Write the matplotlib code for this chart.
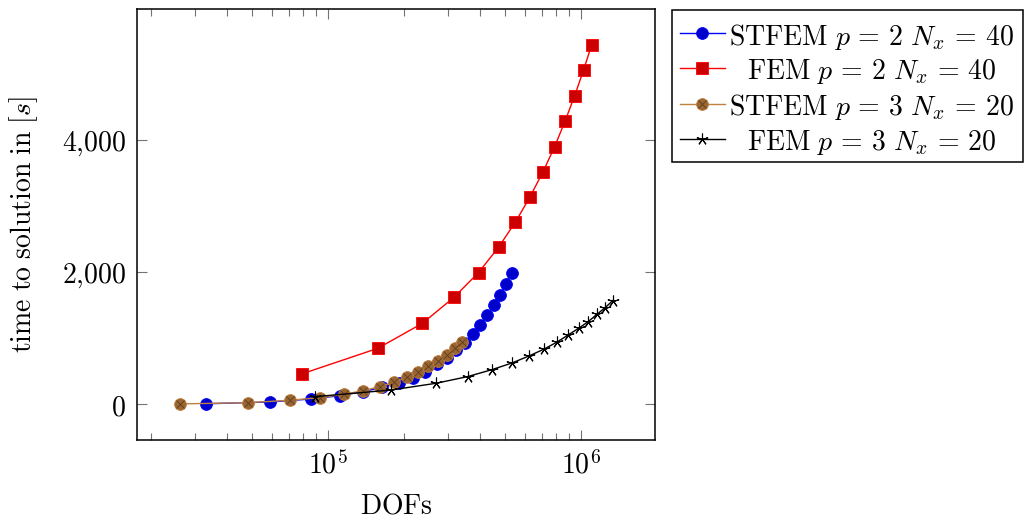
"""Time to solution vs. DOFs for STFEM and FEM runs (log x axis)."""
import math

import matplotlib
matplotlib.use("Agg")
import matplotlib.pyplot as plt
from matplotlib.lines import Line2D
from matplotlib.patches import Rectangle
from matplotlib.ticker import FuncFormatter, FixedLocator, LogLocator, NullFormatter

plt.rcParams["mathtext.fontset"] = "cm"

# --- data ------------------------------------------------------------------
stfem2_dofs = [33000, 59300, 85600, 111900, 138200, 164500, 190800, 217100,
               243400, 269700, 296000, 322300, 348600, 374900, 401200, 427500,
               453800, 480100, 506400, 532700]
stfem2_time = [8, 35, 80, 131, 191, 257, 328, 403, 494, 605, 696, 817, 933,
               1064, 1206, 1347, 1498, 1650, 1821, 1993]

fem2_dofs = [78900, 157800, 236700, 315600, 394500, 473400, 552300, 631200,
             710100, 789000, 867900, 946800, 1025700, 1104600]
fem2_time = [459, 847, 1225, 1619, 1993, 2376, 2759, 3143, 3521, 3899, 4288,
             4671, 5054, 5438]

stfem3_dofs = [26100, 48500, 70900, 93300, 115700, 138100, 160500, 182900,
               205300, 227700, 250100, 272500, 294900, 317300, 339700]
stfem3_time = [6, 25, 61, 101, 151, 207, 267, 333, 414, 489, 575, 661, 747,
               847, 948]

fem3_dofs = [89300, 178600, 267900, 357200, 446500, 535800, 625100, 714400,
             803700, 893000, 982300, 1071600, 1160900, 1250200, 1339500]
fem3_time = [116, 217, 318, 419, 525, 626, 732, 833, 939, 1050, 1151, 1252,
             1363, 1464, 1570]

labels = [r"$\mathrm{STFEM}\ p\,=\,2\ N_x\,=\,40$",
          r"$\mathrm{FEM}\ p\,=\,2\ N_x\,=\,40$",
          r"$\mathrm{STFEM}\ p\,=\,3\ N_x\,=\,20$",
          r"$\mathrm{FEM}\ p\,=\,3\ N_x\,=\,20$"]

# pgfplots-like styles
BLUE, BLUE_F = "#0000ff", "#0000cc"
RED, RED_F = "#ff0000", "#cc0000"
BROWN, BROWN_F = "#bf8040", "#996633"
STAR = (5, 2, 0)

W, H = 1024, 521
fig = plt.figure(figsize=(W / 100, H / 100), dpi=100)
ax = fig.add_axes([137 / W, 1 - 440 / H, (655 - 137) / W, (440 - 9.3) / H])

ax.plot(stfem2_dofs, stfem2_time, "-o", color=BLUE, lw=1.0, ms=8.5,
        mfc=BLUE_F, mec=BLUE, mew=0.6)
ax.plot(fem2_dofs, fem2_time, "-s", color=RED, lw=1.0, ms=8,
        mfc=RED_F, mec=RED, mew=0.6)
ax.plot(stfem3_dofs, stfem3_time, "-o", color=BROWN, lw=1.0, ms=8.5,
        mfc=BROWN_F, mec=BROWN, mew=0.6)
# cross inside the circles (otimes*)
ax.plot(stfem3_dofs, stfem3_time, "x", ls="none", color="#5c3b1c", ms=5.5, mew=0.6)
ax.plot(fem3_dofs, fem3_time, "-", color="black", lw=1.0, marker=STAR, ms=8.5,
        mew=0.8)

ax.set_xscale("log")
ax.set_xlim(17630, 1.966e6)
ax.set_ylim(-540, 5976)

ax.xaxis.set_major_locator(FixedLocator([1e5, 1e6]))
ax.xaxis.set_major_formatter(FuncFormatter(
    lambda v, pos: r"$10^{%d}$" % round(math.log10(v))))
ax.xaxis.set_minor_locator(LogLocator(base=10, subs=range(2, 10), numticks=20))
ax.xaxis.set_minor_formatter(NullFormatter())

ax.yaxis.set_major_locator(FixedLocator([0, 2000, 4000]))
ax.yaxis.set_major_formatter(FuncFormatter(
    lambda v, pos: r"$%s$" % f"{int(v):,}".replace(",", "{,}")))

ax.tick_params(which="both", direction="in", top=True, right=True,
               color="0.45", width=0.8, labelsize=20)
ax.tick_params(which="major", length=7, pad=8)
ax.tick_params(which="minor", length=5)
for s in ax.spines.values():
    s.set_linewidth(1.1)

fig.text(396 / W, 1 - 505 / H, r"$\mathrm{DOFs}$", fontsize=20,
         ha="center", va="center")
fig.text(24 / W, 1 - 224.7 / H, r"$\mathrm{time\ to\ solution\ in\ }[s]$",
         fontsize=20, rotation=90, ha="center", va="center")

# legend drawn by hand so the entries can be centred like pgfplots
box_l, box_t, box_r, box_b = 671.7, 9.5, 1022.5, 161.7
fig.add_artist(Rectangle((box_l / W, 1 - box_b / H), (box_r - box_l) / W,
                         (box_b - box_t) / H, transform=fig.transFigure,
                         fill=False, ec="black", lw=1.1))
rows = [33.3, 68.3, 104, 139.3]
styles = [dict(color=BLUE, marker="o", ms=8.5, mfc=BLUE_F, mec=BLUE, mew=0.6),
          dict(color=RED, marker="s", ms=8, mfc=RED_F, mec=RED, mew=0.6),
          dict(color=BROWN, marker="o", ms=8.5, mfc=BROWN_F, mec=BROWN, mew=0.6),
          dict(color="black", marker=STAR, ms=8.5, mew=0.8)]
for yrow, lab, st in zip(rows, labels, styles):
    yf = 1 - yrow / H
    fig.add_artist(Line2D([680 / W, 725 / W], [yf, yf], lw=1.0,
                          transform=fig.transFigure, markevery=[], **st))
    fig.add_artist(Line2D([702.3 / W], [yf], ls="none",
                          transform=fig.transFigure, **st))
    if st["color"] == BROWN:
        fig.add_artist(Line2D([702.3 / W], [yf], ls="none", marker="x",
                              color="#5c3b1c", ms=5.5, mew=0.6,
                              transform=fig.transFigure))
    fig.text(871.5 / W, yf, lab, fontsize=20, ha="center", va="center_baseline")

fig.savefig("out.png", dpi=100)
